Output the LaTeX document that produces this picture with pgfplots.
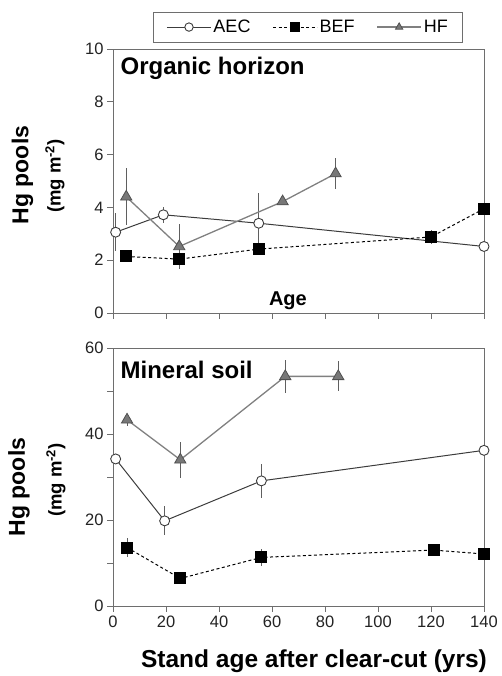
\documentclass[border=0pt]{standalone}
\usepackage{fontspec}
\setmainfont{Liberation Sans}
\usepackage{pgfplots}
\pgfplotsset{compat=1.18}
\definecolor{axgray}{RGB}{110,110,110}
\definecolor{aecc}{RGB}{60,60,60}
\definecolor{hfline}{RGB}{128,128,128}
\definecolor{hffill}{RGB}{120,120,120}
\definecolor{hfedge}{RGB}{80,80,80}
\definecolor{errc}{RGB}{95,95,95}
\definecolor{tickc}{RGB}{35,35,35}
\pgfplotsset{
  myaxis/.style={
    scale only axis, width=371pt, xmin=0, xmax=140, xtick={0,20,...,140},
    axis line style={axgray, line width=0.9pt},
    tick style={axgray, line width=0.9pt}, tick align=outside,
    major tick length=6pt, minor tick length=6pt,
    xtick pos=bottom, ytick pos=left,
    ticklabel style={font=\fontsize{16.5}{16.5}\selectfont, text=tickc},
    /pgf/number format/assume math mode=true,
    clip=false,
  },
  errs/.style={error bars/.cd, y dir=both, y explicit, error mark=none,
    error bar style={errc, line width=1pt, solid}},
  aec/.style={color=aecc, line width=1pt, mark=*, mark size=5pt,
    mark options={fill=white, draw=aecc, solid, line width=0.9pt}},
  bef/.style={color=black, line width=1pt, dash pattern=on 3pt off 2.5pt, mark=square*, mark size=5.5pt,
    mark options={fill=black, draw=black, solid}},
  hf/.style={color=hfline, line width=1.3pt, mark=triangle*, mark size=6.5pt,
    mark options={fill=hffill, draw=hfedge, solid, line width=0.8pt}},
}
\begin{document}
\begin{tikzpicture}
\useasboundingbox (0,0) rectangle (501pt,676pt);
% ---------- top panel ----------
\begin{axis}[myaxis, at={(113pt,363pt)}, anchor=south west, height=264pt,
  ymin=0, ymax=10, ytick={0,2,...,10}, xticklabel=\empty,
  legend columns=3,
  legend style={at={(0.526,1.083)}, anchor=center, draw=axgray, line width=0.9pt,
    font=\fontsize{18}{18}\selectfont, inner xsep=13pt, inner ysep=6pt,
    /tikz/every even column/.append style={column sep=20pt}},
  legend image code/.code={\draw[mark repeat=2, mark phase=2, mark size=4.2pt] plot coordinates {(0pt,0pt) (22pt,0pt) (44pt,0pt)};},
]
\addplot[aec, errs] table[x=x, y=y, y error=e] {
x y e
1 3.06 0.73
19 3.72 0.30
55 3.40 1.14
140 2.52 0.10
};
\addlegendentry{AEC}
\addplot[bef, errs] table[x=x, y=y, y error=e] {
x y e
5 2.14 0.10
25 2.04 0.26
55 2.42 0.15
120 2.88 0.25
140 3.95 0.10
};
\addlegendentry{BEF}
\addplot[hf, errs] table[x=x, y=y, y error=e] {
x y e
5 4.40 1.08
25 2.52 0.86
64 4.22 0.12
84 5.28 0.58
};
\addlegendentry{HF}
\node[anchor=north west, font=\bfseries\fontsize{24}{24}\selectfont, inner sep=0pt] at (rel axis cs:0.02,0.97) {Organic horizon};
\node[anchor=base, font=\bfseries\fontsize{20}{20}\selectfont, inner sep=0pt] at (axis cs:66,0.3) {Age};
\end{axis}
% ---------- bottom panel ----------
\begin{axis}[myaxis, at={(113pt,70pt)}, anchor=south west, height=258pt,
  ymin=0, ymax=60, ytick={0,20,40,60}, minor ytick={10,30,50},
]
\addplot[aec, errs] table[x=x, y=y, y error=e] {
x y e
1 34.2 0.5
19.5 19.8 3.4
56 29.1 4.0
140 36.2 0.5
};
\addplot[bef, errs] table[x=x, y=y, y error=e] {
x y e
5.3 13.6 2.1
25.4 6.4 0.5
56 11.3 2.0
121 13.0 0.8
140 12.1 0.5
};
\addplot[hf, errs] table[x=x, y=y, y error=e] {
x y e
5.3 43.3 1.4
25.4 34.0 4.2
65 53.4 3.8
85 53.4 3.5
};
\node[anchor=north west, font=\bfseries\fontsize{24}{24}\selectfont, inner sep=0pt] at (rel axis cs:0.02,0.95) {Mineral soil};
\end{axis}
% ---------- labels ----------
\node[rotate=90, font=\bfseries\fontsize{23}{23}\selectfont, inner sep=0pt] at (22.5pt,501pt) {Hg pools};
\node[rotate=90, font=\bfseries\fontsize{18.5}{18.5}\selectfont, inner sep=0pt] at (55pt,500pt) {(mg m\textsuperscript{-2})};
\node[rotate=90, font=\bfseries\fontsize{23}{23}\selectfont, inner sep=0pt] at (19pt,189pt) {Hg pools};
\node[rotate=90, font=\bfseries\fontsize{18.5}{18.5}\selectfont, inner sep=0pt] at (56pt,196pt) {(mg m\textsuperscript{-2})};
\node[anchor=base, font=\bfseries\fontsize{24.5}{24.5}\selectfont, inner sep=0pt] at (314pt,9pt) {Stand age after clear-cut (yrs)};
\end{tikzpicture}
\end{document}
